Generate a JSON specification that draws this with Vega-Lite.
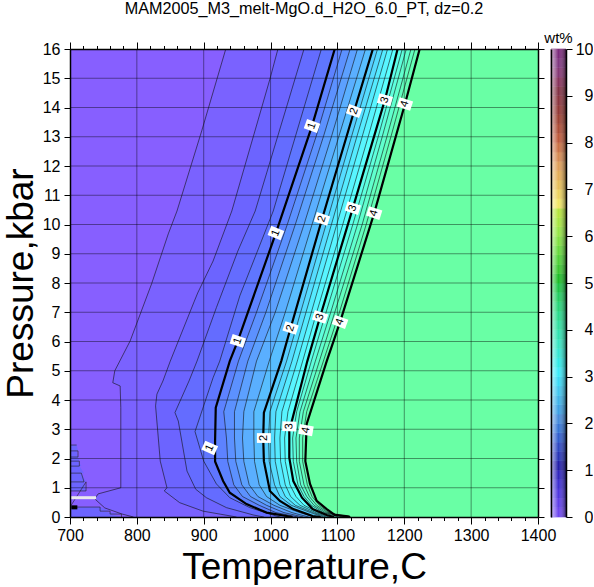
{
"$schema":"https://vega.github.io/schema/vega-lite/v6.json",
"padding":{"left":2,"top":0,"right":0,"bottom":0},
"background":"white",
"config":{"font":"Liberation Sans","view":{"stroke":null}},
"width":496,"height":468,
"title":{"text":"MAM2005_M3_melt-MgO.d_H2O_6.0_PT, dz=0.2","fontSize":16.2,"fontWeight":"normal","font":"Liberation Sans","color":"black","anchor":"middle","offset":14,"dx":-14},
"datasets":{
"contours":[
{"z":0,"T":700,"P":0},{"z":0,"T":700,"P":16},
{"z":0.2,"T":795,"P":0},{"z":0.2,"T":778,"P":0.1},{"z":0.2,"T":752,"P":0.31},{"z":0.2,"T":737,"P":0.62},{"z":0.2,"T":742,"P":0.79},{"z":0.2,"T":776,"P":1},{"z":0.2,"T":776,"P":3.74},{"z":0.2,"T":775,"P":4.48},{"z":0.2,"T":764,"P":4.59},{"z":0.2,"T":767,"P":5},{"z":0.2,"T":790,"P":6.02},{"z":0.2,"T":822,"P":7.97},{"z":0.2,"T":847,"P":9.68},{"z":0.2,"T":860,"P":10.46},{"z":0.2,"T":897,"P":13.2},{"z":0.2,"T":933,"P":16},
{"z":0.4,"T":949,"P":0},{"z":0.4,"T":899,"P":0.2},{"z":0.4,"T":864,"P":0.49},{"z":0.4,"T":841,"P":0.89},{"z":0.4,"T":845,"P":1},{"z":0.4,"T":835,"P":1.91},{"z":0.4,"T":828,"P":3.8},{"z":0.4,"T":830,"P":4.2},{"z":0.4,"T":839,"P":4.65},{"z":0.4,"T":850,"P":5.33},{"z":0.4,"T":886,"P":7.38},{"z":0.4,"T":891,"P":7.66},{"z":0.4,"T":914,"P":8.75},{"z":0.4,"T":942,"P":10.46},{"z":0.4,"T":999,"P":14.97},{"z":0.4,"T":1011,"P":16},
{"z":0.6,"T":990,"P":0},{"z":0.6,"T":974,"P":0.07},{"z":0.6,"T":934,"P":0.32},{"z":0.6,"T":904,"P":0.66},{"z":0.6,"T":888,"P":0.95},{"z":0.6,"T":875,"P":1.57},{"z":0.6,"T":862,"P":3.28},{"z":0.6,"T":857,"P":3.57},{"z":0.6,"T":878,"P":4.65},{"z":0.6,"T":890,"P":5.33},{"z":0.6,"T":919,"P":7.16},{"z":0.6,"T":951,"P":9.09},{"z":0.6,"T":977,"P":10.46},{"z":0.6,"T":1050,"P":16},
{"z":0.8,"T":1015,"P":0},{"z":0.8,"T":1009,"P":0.03},{"z":0.8,"T":969,"P":0.32},{"z":0.8,"T":939,"P":0.66},{"z":0.8,"T":919,"P":1.13},{"z":0.8,"T":900,"P":1.91},{"z":0.8,"T":887,"P":2.92},{"z":0.8,"T":914,"P":4.76},{"z":0.8,"T":924,"P":5.33},{"z":0.8,"T":954,"P":7.56},{"z":0.8,"T":1004,"P":10.46},{"z":0.8,"T":1076,"P":16},
{"z":1,"T":1033,"P":0},{"z":1,"T":994,"P":0.15},{"z":1,"T":964,"P":0.44},{"z":1,"T":939,"P":0.83},{"z":1,"T":929,"P":1.23},{"z":1,"T":917,"P":1.9},{"z":1,"T":917,"P":2.6},{"z":1,"T":918,"P":3.74},{"z":1,"T":939,"P":5.33},{"z":1,"T":951,"P":6.02},{"z":1,"T":1008,"P":9.71},{"z":1,"T":1062,"P":13.37},{"z":1,"T":1096,"P":16},
{"z":1.2,"T":1041,"P":0},{"z":1.2,"T":1008,"P":0.15},{"z":1.2,"T":983,"P":0.4},{"z":1.2,"T":958,"P":0.7},{"z":1.2,"T":945,"P":1.1},{"z":1.2,"T":936,"P":1.9},{"z":1.2,"T":934,"P":2.7},{"z":1.2,"T":930,"P":3.6},{"z":1.2,"T":952,"P":5.33},{"z":1.2,"T":979,"P":7},{"z":1.2,"T":1025,"P":10},{"z":1.2,"T":1068,"P":13},{"z":1.2,"T":1107,"P":16},
{"z":1.4,"T":1049,"P":0},{"z":1.4,"T":1020,"P":0.15},{"z":1.4,"T":994,"P":0.4},{"z":1.4,"T":970,"P":0.7},{"z":1.4,"T":957,"P":1.1},{"z":1.4,"T":948,"P":1.9},{"z":1.4,"T":946,"P":2.7},{"z":1.4,"T":946,"P":3.6},{"z":1.4,"T":966,"P":5.33},{"z":1.4,"T":993,"P":7},{"z":1.4,"T":1037,"P":10},{"z":1.4,"T":1079,"P":13},{"z":1.4,"T":1119,"P":16},
{"z":1.6,"T":1057,"P":0},{"z":1.6,"T":1032,"P":0.15},{"z":1.6,"T":1005,"P":0.4},{"z":1.6,"T":981,"P":0.7},{"z":1.6,"T":968,"P":1.1},{"z":1.6,"T":960,"P":1.9},{"z":1.6,"T":958,"P":2.7},{"z":1.6,"T":960,"P":3.6},{"z":1.6,"T":979,"P":5.33},{"z":1.6,"T":1007,"P":7},{"z":1.6,"T":1050,"P":10},{"z":1.6,"T":1091,"P":13},{"z":1.6,"T":1130,"P":16},
{"z":1.8,"T":1066,"P":0},{"z":1.8,"T":1044,"P":0.15},{"z":1.8,"T":1014,"P":0.4},{"z":1.8,"T":994,"P":0.7},{"z":1.8,"T":983,"P":1.1},{"z":1.8,"T":976,"P":1.9},{"z":1.8,"T":975,"P":2.7},{"z":1.8,"T":975,"P":3.6},{"z":1.8,"T":998,"P":5.33},{"z":1.8,"T":1022,"P":7},{"z":1.8,"T":1062,"P":10},{"z":1.8,"T":1102,"P":13},{"z":1.8,"T":1142,"P":16},
{"z":2,"T":1075,"P":0},{"z":2,"T":1063,"P":0.03},{"z":2,"T":1034,"P":0.27},{"z":2,"T":1014,"P":0.55},{"z":2,"T":999,"P":0.89},{"z":2,"T":990,"P":1.91},{"z":2,"T":989,"P":2.7},{"z":2,"T":990,"P":3.57},{"z":2,"T":1016,"P":5.33},{"z":2,"T":1030,"P":6.46},{"z":2,"T":1077,"P":10.19},{"z":2,"T":1125,"P":13.88},{"z":2,"T":1153,"P":16},
{"z":2.2,"T":1079,"P":0},{"z":2.2,"T":1060,"P":0.15},{"z":2.2,"T":1031,"P":0.4},{"z":2.2,"T":1014,"P":0.7},{"z":2.2,"T":1006,"P":1.1},{"z":2.2,"T":998,"P":1.9},{"z":2.2,"T":997,"P":2.7},{"z":2.2,"T":999,"P":3.6},{"z":2.2,"T":1024,"P":5.33},{"z":2.2,"T":1045,"P":7},{"z":2.2,"T":1083,"P":10},{"z":2.2,"T":1121,"P":13},{"z":2.2,"T":1160,"P":16},
{"z":2.4,"T":1083,"P":0},{"z":2.4,"T":1064,"P":0.15},{"z":2.4,"T":1037,"P":0.4},{"z":2.4,"T":1022,"P":0.7},{"z":2.4,"T":1014,"P":1.1},{"z":2.4,"T":1007,"P":1.9},{"z":2.4,"T":1006,"P":2.7},{"z":2.4,"T":1008,"P":3.6},{"z":2.4,"T":1032,"P":5.33},{"z":2.4,"T":1053,"P":7},{"z":2.4,"T":1091,"P":10},{"z":2.4,"T":1129,"P":13},{"z":2.4,"T":1168,"P":16},
{"z":2.6,"T":1087,"P":0},{"z":2.6,"T":1068,"P":0.15},{"z":2.6,"T":1044,"P":0.4},{"z":2.6,"T":1030,"P":0.7},{"z":2.6,"T":1022,"P":1.1},{"z":2.6,"T":1015,"P":1.9},{"z":2.6,"T":1014,"P":2.7},{"z":2.6,"T":1017,"P":3.6},{"z":2.6,"T":1040,"P":5.33},{"z":2.6,"T":1061,"P":7},{"z":2.6,"T":1099,"P":10},{"z":2.6,"T":1137,"P":13},{"z":2.6,"T":1175,"P":16},
{"z":2.8,"T":1091,"P":0},{"z":2.8,"T":1072,"P":0.15},{"z":2.8,"T":1050,"P":0.4},{"z":2.8,"T":1038,"P":0.7},{"z":2.8,"T":1029,"P":1.1},{"z":2.8,"T":1022,"P":1.9},{"z":2.8,"T":1021,"P":2.7},{"z":2.8,"T":1026,"P":3.6},{"z":2.8,"T":1048,"P":5.33},{"z":2.8,"T":1069,"P":7},{"z":2.8,"T":1108,"P":10},{"z":2.8,"T":1146,"P":13},{"z":2.8,"T":1183,"P":16},
{"z":3,"T":1095,"P":0},{"z":3,"T":1084,"P":0.07},{"z":3,"T":1063,"P":0.27},{"z":3,"T":1047,"P":0.66},{"z":3,"T":1034,"P":1.23},{"z":3,"T":1028,"P":2.03},{"z":3,"T":1028,"P":2.94},{"z":3,"T":1055,"P":5.33},{"z":3,"T":1074,"P":6.84},{"z":3,"T":1123,"P":10.56},{"z":3,"T":1171,"P":14.26},{"z":3,"T":1190,"P":16},
{"z":3.2,"T":1101,"P":0},{"z":3.2,"T":1079,"P":0.15},{"z":3.2,"T":1061,"P":0.4},{"z":3.2,"T":1050,"P":0.7},{"z":3.2,"T":1041,"P":1.1},{"z":3.2,"T":1034,"P":1.9},{"z":3.2,"T":1033,"P":2.7},{"z":3.2,"T":1039,"P":3.6},{"z":3.2,"T":1061,"P":5.33},{"z":3.2,"T":1083,"P":7},{"z":3.2,"T":1123,"P":10},{"z":3.2,"T":1161,"P":13},{"z":3.2,"T":1197,"P":16},
{"z":3.4,"T":1107,"P":0},{"z":3.4,"T":1082,"P":0.15},{"z":3.4,"T":1065,"P":0.4},{"z":3.4,"T":1054,"P":0.7},{"z":3.4,"T":1045,"P":1.1},{"z":3.4,"T":1039,"P":1.9},{"z":3.4,"T":1038,"P":2.7},{"z":3.4,"T":1044,"P":3.6},{"z":3.4,"T":1067,"P":5.33},{"z":3.4,"T":1090,"P":7},{"z":3.4,"T":1130,"P":10},{"z":3.4,"T":1167,"P":13},{"z":3.4,"T":1203,"P":16},
{"z":3.6,"T":1113,"P":0},{"z":3.6,"T":1085,"P":0.15},{"z":3.6,"T":1069,"P":0.4},{"z":3.6,"T":1058,"P":0.7},{"z":3.6,"T":1050,"P":1.1},{"z":3.6,"T":1043,"P":1.9},{"z":3.6,"T":1043,"P":2.7},{"z":3.6,"T":1049,"P":3.6},{"z":3.6,"T":1073,"P":5.33},{"z":3.6,"T":1096,"P":7},{"z":3.6,"T":1137,"P":10},{"z":3.6,"T":1174,"P":13},{"z":3.6,"T":1210,"P":16},
{"z":3.8,"T":1119,"P":0},{"z":3.8,"T":1087,"P":0.15},{"z":3.8,"T":1073,"P":0.4},{"z":3.8,"T":1062,"P":0.7},{"z":3.8,"T":1055,"P":1.1},{"z":3.8,"T":1048,"P":1.9},{"z":3.8,"T":1048,"P":2.7},{"z":3.8,"T":1054,"P":3.6},{"z":3.8,"T":1079,"P":5.33},{"z":3.8,"T":1103,"P":7},{"z":3.8,"T":1143,"P":10},{"z":3.8,"T":1180,"P":13},{"z":3.8,"T":1216,"P":16},
{"z":4,"T":1119,"P":0},{"z":4,"T":1116,"P":0.02},{"z":4,"T":1096,"P":0.07},{"z":4,"T":1084,"P":0.27},{"z":4,"T":1069,"P":0.55},{"z":4,"T":1059,"P":1.13},{"z":4,"T":1052,"P":1.91},{"z":4,"T":1054,"P":3.18},{"z":4,"T":1084,"P":5.33},{"z":4,"T":1104,"P":6.67},{"z":4,"T":1155,"P":10.39},{"z":4,"T":1201,"P":14.12},{"z":4,"T":1223,"P":16}
],
"pocket":[
{"id":"a","T":724,"P":0.89},{"id":"a","T":724,"P":1.2},{"id":"a","T":721,"P":1.2},{"id":"a","T":721,"P":1.5},{"id":"a","T":717,"P":1.5},{"id":"a","T":717,"P":1.74},{"id":"a","T":714,"P":1.74},{"id":"a","T":714,"P":1.91},{"id":"a","T":712,"P":1.91},{"id":"a","T":712,"P":2.26},{"id":"a","T":710,"P":2.26},{"id":"a","T":710,"P":2.46},
{"id":"b","T":777,"P":0},{"id":"b","T":777,"P":0.1},{"id":"b","T":760,"P":0.1},{"id":"b","T":760,"P":0.2},{"id":"b","T":745,"P":0.2},{"id":"b","T":745,"P":0.34}
],
"jag":[
{"n":1,"T":710,"P":2.46},{"n":2,"T":700,"P":2.46},{"n":3,"T":700,"P":2.26},{"n":4,"T":712,"P":2.26},{"n":5,"T":712,"P":2.05},{"n":6,"T":700,"P":2.05},{"n":7,"T":700,"P":1.91},{"n":8,"T":714,"P":1.91},{"n":9,"T":714,"P":1.74},{"n":10,"T":700,"P":1.74},{"n":11,"T":700,"P":1.5},{"n":12,"T":717,"P":1.5},{"n":13,"T":721,"P":1.2},{"n":14,"T":700,"P":1.2},{"n":15,"T":700,"P":0.89},{"n":16,"T":724,"P":0.89},{"n":17,"T":724,"P":1.2},
{"n":18,"T":700,"P":0.34},{"n":19,"T":745,"P":0.34},{"n":20,"T":745,"P":0.2},{"n":21,"T":760,"P":0.2},{"n":22,"T":760,"P":0.1},{"n":23,"T":777,"P":0.1},{"n":24,"T":777,"P":0}
],
"labels":[
{"z":1,"T":1062,"P":13.37,"a":-70},{"z":1,"T":1008,"P":9.71,"a":-68},{"z":1,"T":951,"P":6.02,"a":-72},{"z":1,"T":909,"P":2.36,"a":-66},
{"z":2,"T":1125,"P":13.88,"a":-70},{"z":2,"T":1077,"P":10.19,"a":-72},{"z":2,"T":1030,"P":6.46,"a":-72},{"z":2,"T":990,"P":2.7,"a":-90},
{"z":3,"T":1171,"P":14.26,"a":-74},{"z":3,"T":1123,"P":10.56,"a":-72},{"z":3,"T":1074,"P":6.84,"a":-72},{"z":3,"T":1028,"P":3.1,"a":-88},
{"z":4,"T":1201,"P":14.12,"a":-72},{"z":4,"T":1155,"P":10.39,"a":-72},{"z":4,"T":1104,"P":6.67,"a":-70},{"z":4,"T":1053,"P":2.97,"a":-80}
],
"gridT":[{"T":800},{"T":900},{"T":1000},{"T":1100},{"T":1200},{"T":1300}],
"gridP":[{"P":1},{"P":2},{"P":3},{"P":4},{"P":5},{"P":6},{"P":7},{"P":8},{"P":9},{"P":10},{"P":11},{"P":12},{"P":13},{"P":14},{"P":15}],
"cbar":[{"z0":0,"z1":0.2},{"z0":0.2,"z1":0.4},{"z0":0.4,"z1":0.6},{"z0":0.6,"z1":0.8},{"z0":0.8,"z1":1},{"z0":1,"z1":1.2},{"z0":1.2,"z1":1.4},{"z0":1.4,"z1":1.6},{"z0":1.6,"z1":1.8},{"z0":1.8,"z1":2},{"z0":2,"z1":2.2},{"z0":2.2,"z1":2.4},{"z0":2.4,"z1":2.6},{"z0":2.6,"z1":2.8},{"z0":2.8,"z1":3},{"z0":3,"z1":3.2},{"z0":3.2,"z1":3.4},{"z0":3.4,"z1":3.6},{"z0":3.6,"z1":3.8},{"z0":3.8,"z1":4},{"z0":4,"z1":4.2},{"z0":4.2,"z1":4.4},{"z0":4.4,"z1":4.6},{"z0":4.6,"z1":4.8},{"z0":4.8,"z1":5},{"z0":5,"z1":5.2},{"z0":5.2,"z1":5.4},{"z0":5.4,"z1":5.6},{"z0":5.6,"z1":5.8},{"z0":5.8,"z1":6},{"z0":6,"z1":6.2},{"z0":6.2,"z1":6.4},{"z0":6.4,"z1":6.6},{"z0":6.6,"z1":6.8},{"z0":6.8,"z1":7},{"z0":7,"z1":7.2},{"z0":7.2,"z1":7.4},{"z0":7.4,"z1":7.6},{"z0":7.6,"z1":7.8},{"z0":7.8,"z1":8},{"z0":8,"z1":8.2},{"z0":8.2,"z1":8.4},{"z0":8.4,"z1":8.6},{"z0":8.6,"z1":8.8},{"z0":8.8,"z1":9},{"z0":9,"z1":9.2},{"z0":9.2,"z1":9.4},{"z0":9.4,"z1":9.6},{"z0":9.6,"z1":9.8},{"z0":9.8,"z1":10}]
},
"resolve":{"scale":{"x":"independent","y":"independent","color":"independent"},"axis":{"x":"independent","y":"independent"}},
"layer":[
{
"resolve":{"axis":{"x":"independent","y":"independent"}},
"layer":[
{"data":{"name":"contours"},
"mark":{"type":"area","orient":"horizontal","clip":true},
"encoding":{
"x":{"field":"T","type":"quantitative","stack":null,"scale":{"domain":[700,1400],"range":[0,468],"nice":false,"zero":false},
"axis":{"orient":"bottom","title":"Temperature,C","titleFontSize":37,"titleFontWeight":"normal","titleColor":"black","titlePadding":6,
"values":[700,720,740,760,780,800,820,840,860,880,900,920,940,960,980,1000,1020,1040,1060,1080,1100,1120,1140,1160,1180,1200,1220,1240,1260,1280,1300,1320,1340,1360,1380,1400],
"labelExpr":"datum.value % 100 == 0 ? datum.value : ''","labelFontSize":16,"labelColor":"black","labelPadding":3,"labelOverlap":false,"labelFlush":false,
"grid":false,"tickColor":"black","tickWidth":1,"tickSize":{"condition":{"test":"datum.value % 100 == 0","value":7},"value":3.5},
"domainColor":"black","domainWidth":1.5,"zindex":1}},
"x2":{"datum":1400},
"y":{"field":"P","type":"quantitative","scale":{"domain":[0,16],"nice":false,"zero":false},
"axis":{"orient":"left","title":"Pressure,kbar","titleFontSize":37,"titleFontWeight":"normal","titleColor":"black","titlePadding":2,
"values":[0,1,2,3,4,5,6,7,8,9,10,11,12,13,14,15,16],"labelFontSize":16,"labelColor":"black","labelPadding":4,
"grid":false,"tickColor":"black","tickWidth":1,"tickSize":6,"domainColor":"black","domainWidth":1.5,"zindex":1}},
"detail":{"field":"z"},
"color":{"field":"z","type":"quantitative","legend":null,"scale":{"domain":[0,0.2,0.4,0.6,0.8,1,1.2,1.4,1.6,1.8,2,2.2,2.4,2.6,2.8,3,3.2,3.4,3.6,3.8,4],
"range":["#875fff","#7a62ff","#6c64ff","#646cff","#5f76ff","#5d82ff","#5c91ff","#5ca0ff","#5aafff","#58beff","#55cdff","#55dcff","#55ebff","#58f5ff","#5affff","#5cffeb","#5effdc","#60ffcd","#62ffbe","#64ffb4","#69ffa5"]}}
}},
{"data":{"name":"pocket"},
"mark":{"type":"area","orient":"horizontal","color":"#6c64ff","clip":true},
"encoding":{
"x":{"field":"T","type":"quantitative","stack":null,"axis":null},
"x2":{"datum":700},
"y":{"field":"P","type":"quantitative","axis":null},
"detail":{"field":"id"}
}},
{"data":{"name":"gridT"},
"mark":{"type":"rule","color":"#000","strokeWidth":0.7,"opacity":0.6,"y":0,"y2":468},
"encoding":{"x":{"field":"T","type":"quantitative",
"axis":{"orient":"top","title":null,"labels":false,
"values":[700,720,740,760,780,800,820,840,860,880,900,920,940,960,980,1000,1020,1040,1060,1080,1100,1120,1140,1160,1180,1200,1220,1240,1260,1280,1300,1320,1340,1360,1380,1400],
"grid":false,"tickColor":"black","tickWidth":1,"tickSize":{"condition":{"test":"datum.value % 100 == 0","value":7},"value":3.5},
"domainColor":"black","domainWidth":1.5,"zindex":1}}}},
{"data":{"name":"gridP"},
"mark":{"type":"rule","color":"#000","strokeWidth":0.7,"opacity":0.6,"x":0,"x2":468},
"encoding":{"y":{"field":"P","type":"quantitative",
"axis":{"orient":"right","offset":-28,"title":null,"labels":false,"values":[0,1,2,3,4,5,6,7,8,9,10,11,12,13,14,15,16],
"grid":false,"tickColor":"black","tickWidth":1,"tickSize":6,"domainColor":"black","domainWidth":1.5,"zindex":1}}}},
{"data":{"name":"contours"},
"transform":[{"filter":"datum.z > 0 && indexof([1,2,3,4], datum.z) < 0"}],
"mark":{"type":"line","color":"#111","strokeWidth":0.6,"clip":true},
"encoding":{
"x":{"field":"T","type":"quantitative","axis":null},
"y":{"field":"P","type":"quantitative","axis":null},
"detail":{"field":"z"},
"order":{"field":"P","type":"quantitative"}
}},
{"data":{"name":"jag"},
"mark":{"type":"line","color":"#222","strokeWidth":0.6,"clip":true},
"encoding":{
"x":{"field":"T","type":"quantitative","axis":null},
"y":{"field":"P","type":"quantitative","axis":null},
"order":{"field":"n","type":"quantitative"}
}},
{"data":{"values":[{"T":700,"P":0.66},{"T":739,"P":0.66}]},
"mark":{"type":"line","color":"#e8e8ee","strokeWidth":3,"clip":true},
"encoding":{
"x":{"field":"T","type":"quantitative","axis":null},
"y":{"field":"P","type":"quantitative","axis":null}
}},
{"data":{"values":[{"T":702,"P":0.33},{"T":711,"P":0.33}]},
"mark":{"type":"line","color":"#000","strokeWidth":4,"clip":true},
"encoding":{
"x":{"field":"T","type":"quantitative","axis":null},
"y":{"field":"P","type":"quantitative","axis":null}
}},
{"data":{"name":"contours"},
"transform":[{"filter":{"field":"z","oneOf":[1,2,3,4]}}],
"mark":{"type":"line","color":"#000","strokeWidth":2.2,"clip":true},
"encoding":{
"x":{"field":"T","type":"quantitative","axis":null},
"y":{"field":"P","type":"quantitative","axis":null},
"detail":{"field":"z"},
"order":{"field":"P","type":"quantitative"}
}},
{"data":{"name":"labels"},
"mark":{"type":"point","filled":true,"opacity":1,"color":"white","size":196,"shape":"M-0.7,-1L0.7,-1L0.7,1L-0.7,1Z"},
"encoding":{
"x":{"field":"T","type":"quantitative","axis":null},
"y":{"field":"P","type":"quantitative","axis":null},
"angle":{"field":"a","type":"quantitative","scale":null}
}},
{"data":{"name":"labels"},
"mark":{"type":"text","fontSize":11,"color":"black","align":"center","baseline":"middle"},
"encoding":{
"x":{"field":"T","type":"quantitative","axis":null},
"y":{"field":"P","type":"quantitative","axis":null},
"text":{"field":"z","type":"quantitative"},
"angle":{"field":"a","type":"quantitative","scale":null}
}}
]
},
{
"resolve":{"axis":{"y":"independent"}},
"layer":[
{"data":{"name":"cbar"},
"mark":{"type":"rect","x":481,"x2":496,"strokeWidth":0.6},
"encoding":{
"y":{"field":"z0","type":"quantitative","scale":{"domain":[0,10],"nice":false,"zero":false},
"axis":{"orient":"right","title":null,"values":[0,1,2,3,4,5,6,7,8,9,10],"labelFontSize":16,"labelColor":"black","labelAlign":"right","labelPadding":21,
"grid":false,"tickColor":"black","tickWidth":1,"tickSize":6,"domainColor":"black","domainWidth":1.5,"zindex":1}},
"y2":{"field":"z1"},
"color":{"field":"z0","type":"quantitative","legend":null,"scale":{"domain":[0,0.5,1,1.5,2,2.5,3,3.5,4,4.5,5,5.5,6,6.5,6.6,7,7.5,8,8.5,9,9.5,10],
"range":["#6e46f0","#4632dc","#231eaa","#3250c8","#468cdc","#46beeb","#3cebfa","#3ce6c8","#32e1a0","#28d26e","#1ebe28","#5ad73c","#96e646","#bee63c","#f0e664","#e6be5a","#dc965a","#be5a3c","#963c32","#823246","#823c82","#781e78"]}},
"stroke":{"field":"z0","type":"quantitative","legend":null,"scale":{"domain":[0,0.5,1,1.5,2,2.5,3,3.5,4,4.5,5,5.5,6,6.5,6.6,7,7.5,8,8.5,9,9.5,10],
"range":["#6e46f0","#4632dc","#231eaa","#3250c8","#468cdc","#46beeb","#3cebfa","#3ce6c8","#32e1a0","#28d26e","#1ebe28","#5ad73c","#96e646","#bee63c","#f0e664","#e6be5a","#dc965a","#be5a3c","#963c32","#823246","#823c82","#781e78"]}}
}},
{"data":{"values":[{"a":0,"b":10}]},
"mark":{"type":"rect","x":481,"x2":496,"color":{"gradient":"linear","x1":0,"y1":0,"x2":1,"y2":0,"stops":[{"offset":0,"color":"rgba(255,255,255,0.65)"},{"offset":0.3,"color":"rgba(255,255,255,0.3)"},{"offset":0.5,"color":"rgba(255,255,255,0)"},{"offset":1,"color":"rgba(0,0,0,0.55)"}]}},
"encoding":{
"y":{"field":"a","type":"quantitative",
"axis":{"orient":"left","offset":-481,"title":null,"labels":false,"ticks":false,"grid":false,"domainColor":"black","domainWidth":1.5,"zindex":1}},
"y2":{"field":"b"}
}},
{"data":{"values":[{"t":"wt%","z":10}]},
"mark":{"type":"text","x":488.5,"dy":-3,"fontSize":15,"color":"black","align":"center","baseline":"bottom"},
"encoding":{
"y":{"field":"z","type":"quantitative","axis":null},
"text":{"field":"t"}
}}
]
}
]
}
